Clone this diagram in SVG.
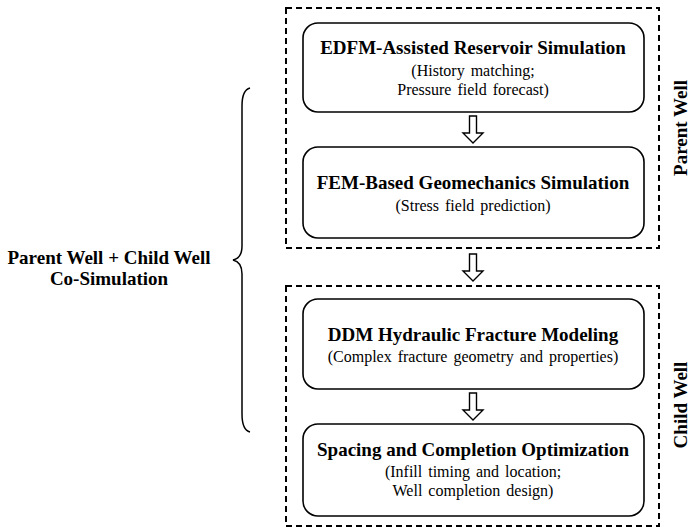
<svg xmlns="http://www.w3.org/2000/svg" width="690" height="530" viewBox="0 0 690 530">
<style>
.group{fill:none;stroke:#000;stroke-width:2;stroke-dasharray:6 4}
.box{fill:#fff;stroke:#000;stroke-width:1.6}
.arrow{fill:#fff;stroke:#000;stroke-width:1.4;stroke-linejoin:miter}
.t{font-family:"Liberation Serif","Times New Roman",serif;font-weight:bold;font-size:19px;text-anchor:middle;fill:#000}
.s{font-family:"Liberation Serif","Times New Roman",serif;font-size:16px;text-anchor:middle;fill:#000;word-spacing:2px}
.brace{fill:none;stroke:#000;stroke-width:1.5}
</style>
<rect width="690" height="530" fill="#fff"/>
<g id="parent-well-group">
<rect class="group" x="286" y="8" width="373" height="240"/>
<text class="t" transform="translate(687,128) rotate(-90)">Parent Well</text>
</g>
<g id="child-well-group">
<rect class="group" x="286" y="286" width="373" height="240"/>
<text class="t" transform="translate(687,405) rotate(-90)">Child Well</text>
</g>
<g id="edfm">
<rect class="box" x="303" y="23" width="341" height="89" rx="15"/>
<text class="t" x="473" y="54">EDFM-Assisted Reservoir Simulation</text>
<text class="s" x="473" y="76">(History matching;</text>
<text class="s" x="473" y="95">Pressure field forecast)</text>
</g>
<g id="fem">
<rect class="box" x="303" y="147" width="341" height="91" rx="15"/>
<text class="t" x="473" y="189">FEM-Based Geomechanics Simulation</text>
<text class="s" x="473" y="211">(Stress field prediction)</text>
</g>
<g id="ddm">
<rect class="box" x="303" y="299" width="341" height="90" rx="15"/>
<text class="t" x="473" y="341">DDM Hydraulic Fracture Modeling</text>
<text class="s" x="473" y="362">(Complex fracture geometry and properties)</text>
</g>
<g id="spacing">
<rect class="box" x="303" y="424" width="341" height="92" rx="15"/>
<text class="t" x="473" y="456">Spacing and Completion Optimization</text>
<text class="s" x="473" y="477">(Infill timing and location;</text>
<text class="s" x="473" y="496">Well completion design)</text>
</g>
<g id="co-simulation">
<text class="t" x="109" y="264">Parent Well + Child Well</text>
<text class="t" x="109" y="285">Co-Simulation</text>
<path class="brace" d="M250,88 Q242,90 242,106 L242,246 Q242,258 233,260 Q242,262 242,274 L242,414 Q242,430 250,432"/>
</g>
<g id="connectors">
<path class="arrow" d="M469.5,116 L476.5,116 L476.5,133 L483,133 L473,143 L463,133 L469.5,133 Z"/>
<path class="arrow" d="M469.5,254 L476.5,254 L476.5,271 L483,271 L473,281 L463,271 L469.5,271 Z"/>
<path class="arrow" d="M469.5,393 L476.5,393 L476.5,410 L483,410 L473,420 L463,410 L469.5,410 Z"/>
</g>
</svg>
